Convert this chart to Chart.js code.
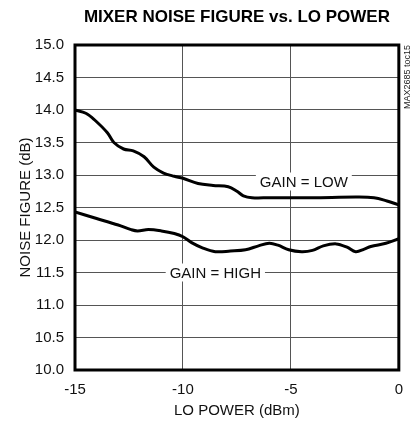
<!DOCTYPE html>
<html>
<head>
<meta charset="utf-8">
<script src="https://cdn.jsdelivr.net/npm/chart.js@4/dist/chart.umd.min.js"></script>
<style>
  html, body { margin: 0; padding: 0; background: #fff; }
  #wrap { width: 414px; height: 431px; }
</style>
</head>
<body>
<div id="wrap"><canvas id="c" width="414" height="431"></canvas></div>
<script>
// ---- data ----
const loPowerLow = [-15, -14.5, -14.1, -13.5, -13.2, -12.75, -12.3, -11.8, -11.35, -10.9, -10.4, -10, -9.3, -8.6, -7.9, -7.5, -7.2, -6.8, -6, -4, -2, -1.15, -0.55, 0];
const nfLow      = [14.00, 13.95, 13.85, 13.65, 13.50, 13.40, 13.37, 13.28, 13.12, 13.03, 12.98, 12.95, 12.87, 12.84, 12.82, 12.75, 12.68, 12.65, 12.65, 12.65, 12.66, 12.65, 12.60, 12.54];
const loPowerHigh = [-15, -14, -13, -12.4, -12.1, -11.6, -11.0, -10.4, -10.0, -9.6, -9.1, -8.5, -7.8, -7.1, -6.5, -6.0, -5.6, -5.1, -4.5, -4.0, -3.5, -2.9, -2.4, -2.0, -1.6, -1.3, -0.6, 0];
const nfHigh      = [12.43, 12.33, 12.23, 12.16, 12.14, 12.16, 12.14, 12.10, 12.05, 11.96, 11.88, 11.82, 11.83, 11.85, 11.91, 11.95, 11.92, 11.85, 11.82, 11.84, 11.91, 11.94, 11.89, 11.82, 11.86, 11.90, 11.95, 12.02];
const seriesNames = ['GAIN = LOW', 'GAIN = HIGH'];
const xTicks = [-15, -10, -5, 0];
const yTicks = [10.0, 10.5, 11.0, 11.5, 12.0, 12.5, 13.0, 13.5, 14.0, 14.5, 15.0];
const chartTitle = 'MIXER NOISE FIGURE vs. LO POWER';
const xTitle = 'LO POWER (dBm)';
const yTitle = 'NOISE FIGURE (dB)';
const sideNote = 'MAX2685 toc15';

// label anchors (in data units)
const labelLow  = { x: -4.4, y: 12.9 };
const labelHigh = { x: -8.5, y: 11.5 };

const FONT = '"Liberation Sans Narrow", "Arial Narrow", "Liberation Sans", Arial, sans-serif';

function pts(xs, ys) { return xs.map((x, i) => ({ x: x, y: ys[i] })); }

const overlay = {
  id: 'overlay',
  beforeDatasetsDraw(chart) {
    const ctx = chart.ctx;
    const xs = chart.scales.x, ys = chart.scales.y;
    ctx.save();
    ctx.font = '15px ' + FONT;
    ctx.textBaseline = 'middle';
    ctx.textAlign = 'center';
    [[labelLow, seriesNames[0]], [labelHigh, seriesNames[1]]].forEach(([p, t]) => {
      const px = xs.getPixelForValue(p.x), py = ys.getPixelForValue(p.y);
      const w = ctx.measureText(t).width;
      ctx.fillStyle = '#fff';
      ctx.fillRect(px - w / 2 - 4, py - 9, w + 8, 18);
      ctx.fillStyle = '#111';
      ctx.fillText(t, px, py + 1);
    });
    ctx.restore();
  },
  afterDatasetsDraw(chart) {
    const ctx = chart.ctx, a = chart.chartArea;
    ctx.save();
    ctx.strokeStyle = '#000';
    ctx.lineWidth = 3;
    ctx.strokeRect(a.left, a.top, a.right - a.left, a.bottom - a.top);
    // side note
    ctx.translate(a.right + 9, a.top);
    ctx.rotate(-Math.PI / 2);
    ctx.font = '9px ' + FONT;
    ctx.fillStyle = '#222';
    ctx.textAlign = 'right';
    ctx.textBaseline = 'middle';
    ctx.fillText(sideNote, 0, 0);
    ctx.restore();
  }
};

new Chart(document.getElementById('c'), {
  type: 'line',
  data: {
    datasets: [
      { label: seriesNames[0], data: pts(loPowerLow, nfLow), borderColor: '#000', borderWidth: 3, pointRadius: 0, tension: 0.35, fill: false },
      { label: seriesNames[1], data: pts(loPowerHigh, nfHigh), borderColor: '#000', borderWidth: 3, pointRadius: 0, tension: 0.35, fill: false }
    ]
  },
  options: {
    responsive: false,
    animation: false,
    layout: { padding: { left: 0, right: 14, top: 0, bottom: 0 } },
    plugins: {
      legend: { display: false },
      tooltip: { enabled: false },
      title: {
        display: true, text: chartTitle, fullSize: false,
        color: '#000',
        font: { family: FONT, size: 17, weight: 'bold', lineHeight: 1.2 },
        padding: { top: 7, bottom: 17.6 }
      }
    },
    scales: {
      x: {
        type: 'linear', min: -15, max: 0,
        afterBuildTicks: s => { s.ticks = xTicks.map(v => ({ value: v })); },
        afterFit: s => { s.height = 61; },
        grid: { color: '#555', lineWidth: 1, drawTicks: false },
        border: { display: false },
        ticks: { color: '#111', font: { family: FONT, size: 15 }, padding: 11 },
        title: { display: true, text: xTitle, color: '#111', font: { family: FONT, size: 15 }, padding: { top: 0, bottom: 11 } }
      },
      y: {
        type: 'linear', min: 10, max: 15,
        afterBuildTicks: s => { s.ticks = yTicks.map(v => ({ value: v })); },
        afterFit: s => { s.width = 75; },
        grid: { color: '#555', lineWidth: 1, drawTicks: false },
        border: { display: false },
        ticks: { color: '#111', font: { family: FONT, size: 15 }, padding: 11, callback: v => Number(v).toFixed(1) },
        title: { display: true, text: yTitle, color: '#111', font: { family: FONT, size: 15 }, padding: { top: 17, bottom: 0 } }
      }
    }
  },
  plugins: [overlay]
});
</script>
</body>
</html>
